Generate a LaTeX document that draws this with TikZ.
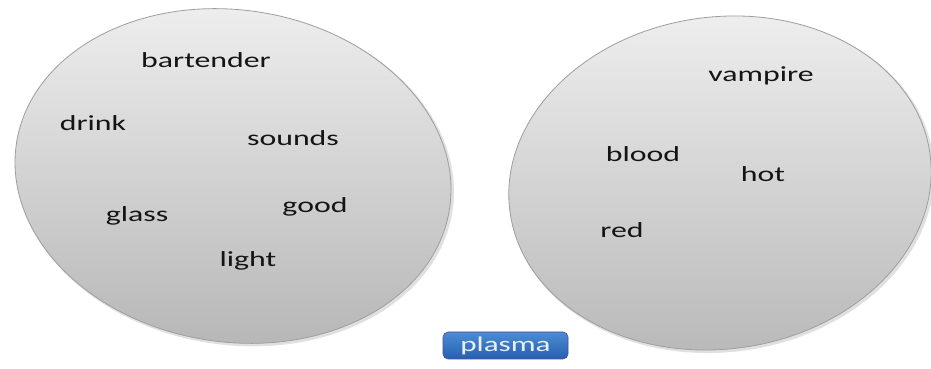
\documentclass[tikz,border=0pt]{standalone}
\usepackage{fontspec}
\setmainfont{Carlito}[FakeStretch=1.48]
\begin{document}
\begin{tikzpicture}[x=1pt,y=1pt,
  word/.style={anchor=base,inner sep=0pt,font=\fontsize{21.5}{24}\selectfont,text=black!92},
  blob/.style={draw=black!38,line width=0.8pt,top color=black!6,bottom color=black!28},
  btn/.style={rounded corners=5pt,draw=blue!45!black!70,line width=0.6pt,top color={rgb,255:red,75;green,140;blue,212},bottom color={rgb,255:red,38;green,96;blue,175},minimum width=125pt,minimum height=27pt,inner sep=0pt,text={rgb,255:red,235;green,240;blue,248},font=\fontsize{21}{24}\selectfont}]
\useasboundingbox (0,0) rectangle (931,369);
\fill[white] (0,0) rectangle (931,369);
% shadows
\fill[black!12,rotate around={-8.5:(235,191)}] (235,191) ellipse [x radius=220, y radius=167];
\fill[black!12,rotate around={8:(722,184)}] (722,184) ellipse [x radius=213, y radius=167];
% ellipses
\path[blob,rotate around={-8.5:(233,193)}] (233,193) ellipse [x radius=219, y radius=166];
\path[blob,rotate around={8:(720,186)}] (720,186) ellipse [x radius=212, y radius=166];
% left words
\node[word] (bartender) at (206,301) {bartender};
\node[word] (drink) at (93,238) {drink};
\node[word] (sounds) at (293,223) {sounds};
\node[word] (glass) at (137,147) {glass};
\node[word] (good) at (315,156) {good};
\node[word] (light) at (248,102) {light};
% right words
\node[word] (vampire) at (761,287) {vampire};
\node[word] (blood) at (643,207) {blood};
\node[word] (hot) at (763,187) {hot};
\node[word] (red) at (622,131) {red};
% button
\node[btn] (plasma) at (505.5,23.5) {plasma};
\end{tikzpicture}
\end{document}
